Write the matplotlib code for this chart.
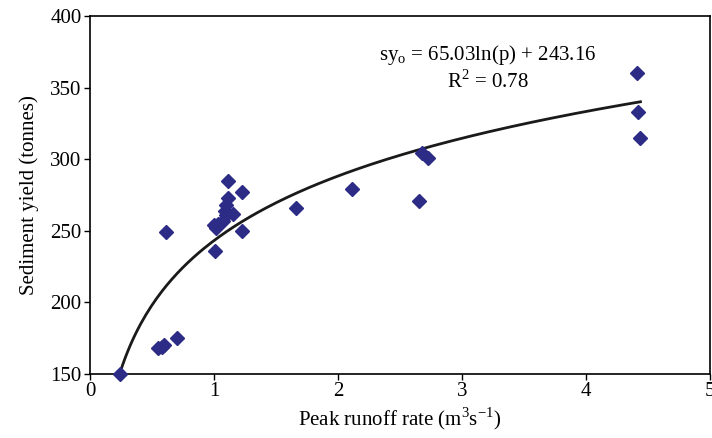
import numpy as np
import matplotlib
matplotlib.use("Agg")
import matplotlib.pyplot as plt

# peak runoff rate (m3/s) and sediment yield (tonnes)
runoff = [0.24, 0.55, 0.58, 0.60, 0.70, 0.61, 1.00, 1.02, 1.03, 1.07, 1.10, 1.09,
          1.10, 1.11, 1.15, 1.11, 1.23, 1.23, 1.01, 1.66, 2.11, 2.65, 2.68, 2.73,
          4.41, 4.42, 4.44]
sediment = [150, 168, 169, 170, 175, 249, 254, 252, 255, 257, 261, 264,
            268, 273, 262, 285, 277, 250, 236, 266, 279, 271, 304, 301,
            360, 333, 315]

# log trendline coefficients as printed on the chart
coef_a = 65.03
coef_b = 243.16
r2 = 0.78

plt.rcParams['font.family'] = ['Liberation Serif', 'DejaVu Serif']
plt.rcParams['mathtext.fontset'] = 'custom'
plt.rcParams['mathtext.rm'] = 'Liberation Serif'

fig = plt.figure(figsize=(7.12, 4.38), dpi=100)
ax = fig.add_axes([0.1264, 0.1461, 0.8706, 0.8174])

ax.plot(runoff, sediment, linestyle='none', marker='D', markersize=7,
        color='#2c2c86', zorder=3, clip_on=False)

px = np.linspace(min(runoff), max(runoff), 200)
ax.plot(px, coef_a * np.log(px) + coef_b, color='#1a1a1a', lw=2.0, zorder=2)

ax.text(3.21, 373, r'sy$_\mathrm{o}$ = %.2fln(p) + %.2f' % (coef_a, coef_b),
        ha='center', va='center', fontsize=15)
ax.text(3.21, 354, r'R$^\mathrm{2}$ = %.2f' % r2, ha='center', va='center', fontsize=15)

ax.set_xlim(0, 5)
ax.set_ylim(150, 400)
ax.set_xticks([0, 1, 2, 3, 4, 5])
ax.set_yticks([150, 200, 250, 300, 350, 400])
ax.tick_params(labelsize=15, direction='out', length=4, width=1, pad=2)
ax.set_xlabel(r'Peak runoff rate (m$^\mathrm{3}$s$^\mathrm{-1}$)', fontsize=15, labelpad=3)
ax.set_ylabel('Sediment yield (tonnes)', fontsize=15, labelpad=8)
for s in ax.spines.values():
    s.set_linewidth(1.2)

fig.savefig('out.png', dpi=100)
